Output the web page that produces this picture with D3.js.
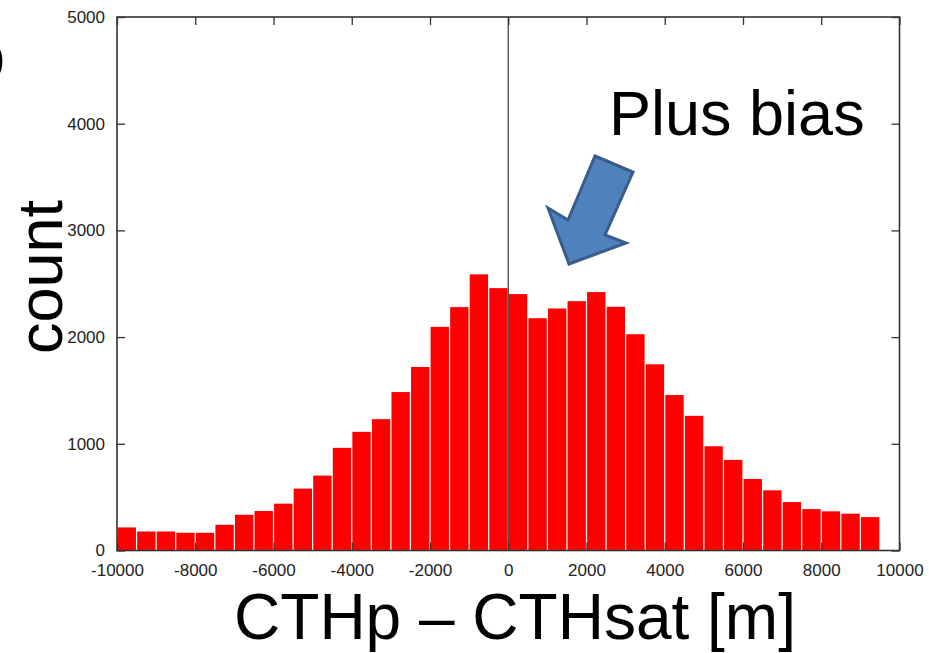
<!DOCTYPE html>
<html>
<head>
<meta charset="utf-8">
<script src="https://cdn.jsdelivr.net/npm/d3@7"></script>
<style>
  html, body { margin: 0; padding: 0; background: #fff; }
  svg { display: block; }
  text { font-family: "Liberation Sans", Arial, Helvetica, sans-serif; }
</style>
</head>
<body>
<svg id="chart" width="929" height="653"></svg>
<script>
// histogram bins (left edge, width 500 m)
var binStarts = d3.range(-10000, 9500, 500);
var counts = [216, 178, 178, 166, 166, 241, 335, 370, 439, 580,
              702, 962, 1112, 1231, 1485, 1720, 2096, 2281, 2588, 2459,
              2403, 2177, 2268, 2337, 2422, 2284, 2027, 1745, 1457, 1262,
              977, 849, 670, 564, 454, 388, 367, 345, 313];
var xTicks = [-10000, -8000, -6000, -4000, -2000, 0, 2000, 4000, 6000, 8000, 10000];
var yTicks = [0, 1000, 2000, 3000, 4000, 5000];
var binWidth = 500;

(function() {
  var svg = d3.select('#chart');
  var pl = 117, pr = 899.5, pt = 17, pb = 550.5;

  var xscale = d3.scaleLinear().domain([-10000, 10000]).range([pl, pr]);
  var yscale = d3.scaleLinear().domain([0, 5000]).range([pb, pt]);

  var bins = binStarts.map(function(s, i) { return {x0: s, x1: s + binWidth, n: counts[i]}; });

  // bars
  svg.append('g').selectAll('rect')
    .data(bins)
    .enter().append('rect')
      .attr('x', function(d) { return xscale(d.x0) + 0.6; })
      .attr('width', function(d) { return xscale(d.x1) - xscale(d.x0) - 1.2; })
      .attr('y', function(d) { return yscale(d.n); })
      .attr('height', function(d) { return yscale(0) - yscale(d.n); })
      .style('fill', '#ff0000');

  // zero line
  svg.append('line')
    .attr('x1', xscale(0)).attr('x2', xscale(0))
    .attr('y1', pt).attr('y2', pb)
    .style('stroke', '#444').style('stroke-width', 1.3);

  // axes, ticks pointing inward and mirrored on top/right
  var tickLen = 8;
  var axisColor = '#333';
  var fmt = function(d) { return String(d); };
  var bottomAxis = d3.axisBottom(xscale).tickValues(xTicks).tickSizeInner(-tickLen).tickSizeOuter(0).tickPadding(tickLen + 5).tickFormat(fmt);
  var topAxis = d3.axisTop(xscale).tickValues(xTicks).tickSizeInner(-tickLen).tickSizeOuter(0).tickFormat('');
  var leftAxis = d3.axisLeft(yscale).tickValues(yTicks).tickSizeInner(-tickLen).tickSizeOuter(0).tickPadding(tickLen + 4).tickFormat(fmt);
  var rightAxis = d3.axisRight(yscale).tickValues(yTicks).tickSizeInner(-tickLen).tickSizeOuter(0).tickFormat('');

  var styleAxis = function(g) {
    g.selectAll('.domain').remove();
    g.selectAll('.tick line').style('stroke', axisColor).style('stroke-width', 1.3);
    g.selectAll('.tick text').style('font-size', '17px').style('fill', '#222')
      .style('font-family', '"Liberation Sans", Arial, sans-serif');
  };

  svg.append('g').attr('transform', 'translate(0,' + pb + ')').call(bottomAxis).call(styleAxis);
  svg.append('g').attr('transform', 'translate(0,' + pt + ')').call(topAxis).call(styleAxis);
  svg.append('g').attr('transform', 'translate(' + pl + ',0)').call(leftAxis).call(styleAxis);
  svg.append('g').attr('transform', 'translate(' + pr + ',0)').call(rightAxis).call(styleAxis);

  // frame
  svg.append('rect')
    .attr('x', pl).attr('y', pt)
    .attr('width', pr - pl).attr('height', pb - pt)
    .style('fill', 'none').style('stroke', axisColor).style('stroke-width', 1.6);

  // axis labels
  svg.append('text')
    .attr('x', 515).attr('y', 639)
    .attr('text-anchor', 'middle')
    .style('font-size', '64px').style('fill', '#000')
    .text('CTHp \u2013 CTHsat [m]');

  svg.append('text')
    .attr('transform', 'translate(62,277) rotate(-90)')
    .attr('text-anchor', 'middle')
    .style('font-size', '63px').style('fill', '#000')
    .text('count');

  // panel letter, cut by the left edge
  svg.append('text')
    .attr('x', 5).attr('y', 78)
    .attr('text-anchor', 'end')
    .style('font-size', '63px').style('fill', '#000')
    .text('b');

  // annotation
  svg.append('text')
    .attr('x', 609).attr('y', 135)
    .style('font-size', '63px').style('fill', '#000')
    .text('Plus bias');

  var arrowPts = [[595, 156], [633, 172], [605, 235], [626, 243], [569, 264], [548, 208], [568, 220]];
  svg.append('polygon')
    .attr('points', arrowPts.map(function(p) { return p.join(','); }).join(' '))
    .style('fill', '#4f81bd')
    .style('stroke', '#385d8a')
    .style('stroke-width', 3)
    .style('stroke-linejoin', 'miter');
})();
</script>
</body>
</html>
